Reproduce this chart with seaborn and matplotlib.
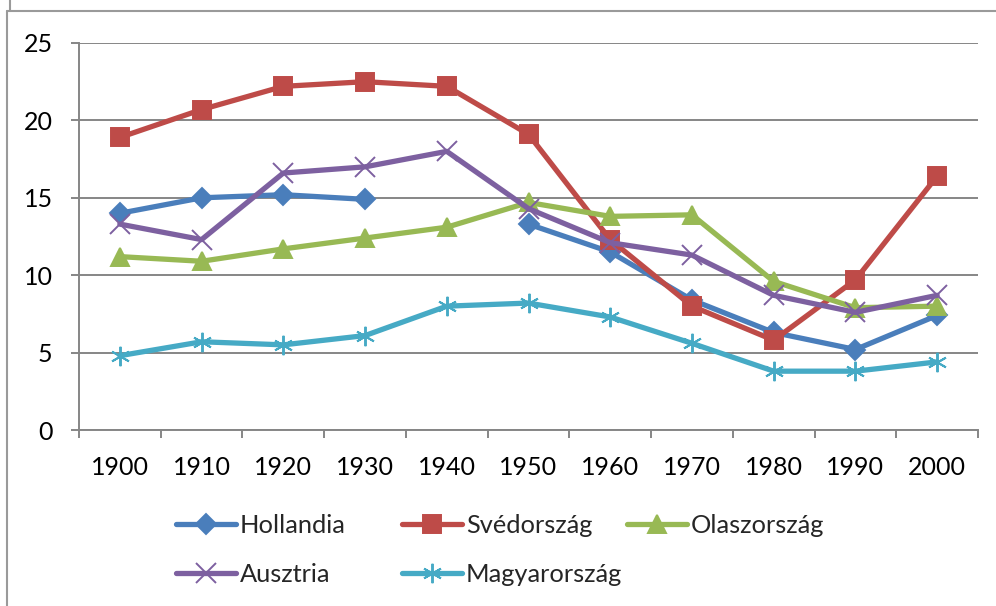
import numpy as np
import pandas as pd
import matplotlib
matplotlib.use("Agg")
import matplotlib.pyplot as plt
import seaborn as sns
from matplotlib.lines import Line2D

# data
years = [1900, 1910, 1920, 1930, 1940, 1950, 1960, 1970, 1980, 1990, 2000]
hollandia = [14.0, 15.0, 15.2, 14.9, np.nan, 13.3, 11.5, 8.4, 6.3, 5.2, 7.4]
svedorszag = [18.9, 20.7, 22.2, 22.5, 22.2, 19.1, 12.3, 8.0, 5.8, 9.7, 16.4]
olaszorszag = [11.2, 10.9, 11.7, 12.4, 13.1, 14.7, 13.8, 13.9, 9.6, 7.9, 8.0]
ausztria = [13.3, 12.3, 16.6, 17.0, 18.0, 14.3, 12.1, 11.3, 8.7, 7.6, 8.7]
magyarorszag = [4.8, 5.7, 5.5, 6.1, 8.0, 8.2, 7.3, 5.6, 3.8, 3.8, 4.4]

series = ["Hollandia", "Svédország", "Olaszország", "Ausztria", "Magyarország"]
colors = ["#4A7EBB", "#BE4B48", "#98B954", "#7D60A0", "#46AAC5"]
markers = ["D", "s", "^", "x", (6, 2, 0)]
msizes = [10.5, 13.5, 12.5, 14, 14]

sns.set_theme(style="white")
plt.rcParams['font.family'] = ['Lato', 'DejaVu Sans']

fig = plt.figure(figsize=(9.96, 6.06), dpi=100)
ax = fig.add_axes([79 / 996, 1 - 430 / 606, (978 - 79) / 996, (430 - 43) / 606])

values = [hollandia, svedorszag, olaszorszag, ausztria, magyarorszag]
for name, vals, c, m, ms in zip(series, values, colors, markers, msizes):
    df = pd.DataFrame({"year": years, "v": vals})
    # split on gaps so missing points break the line
    seg = df["v"].isna().cumsum()
    for _, part in df[df["v"].notna()].groupby(seg[df["v"].notna()]):
        sns.lineplot(data=part, x="year", y="v", ax=ax, color=c, lw=3.8,
                     marker=m, markersize=ms, markeredgecolor=c,
                     markeredgewidth=1.4, estimator=None, legend=False)

ax.set_xlim(1895, 2005)
ax.set_ylim(0, 25)
ax.set_yticks([0, 5, 10, 15, 20, 25])
ax.set_xticks(years)
ax.set_xticks([y - 5 for y in years] + [2005], minor=True)
ax.set_xlabel("")
ax.set_ylabel("")
ax.grid(axis="y", color="#868686", lw=1.4)
ax.set_axisbelow(True)
for s in ["top", "right"]:
    ax.spines[s].set_visible(False)
for s in ["left", "bottom"]:
    ax.spines[s].set_color("#868686")
    ax.spines[s].set_linewidth(1.4)
ax.tick_params(axis="x", which="major", length=0, pad=19, labelsize=18,
               labelcolor="black")
ax.tick_params(axis="x", which="minor", bottom=True, length=6, width=1.4,
               color="#868686")
ax.tick_params(axis="y", left=True, length=6, width=1.4, color="#868686",
               pad=13, labelsize=18, labelcolor="black")

handles = [Line2D([], [], color=c, lw=3.8, marker=m, markersize=ms,
                  markeredgecolor=c, markeredgewidth=1.4)
           for c, m, ms in zip(colors, markers, msizes)]

# Excel-style legend: equal-width columns, filled row by row
columns = [[0, 3], [1, 4], [2]]
col_x = [176, 402, 627]
for idx, x0 in zip(columns, col_x):
    leg = fig.legend([handles[i] for i in idx], [series[i] for i in idx],
                     frameon=False, loc="upper left",
                     bbox_to_anchor=((x0 - 10) / 996, 1 - 504 / 606),
                     fontsize=18.3, handlelength=2.35, handletextpad=0.15,
                     labelspacing=1.0, borderpad=0.4, borderaxespad=0)

# outer frame lines
fig.add_artist(Line2D([7 / 996, 1], [1 - 11 / 606, 1 - 11 / 606],
                      color="#9a9a9a", lw=1.5))
fig.add_artist(Line2D([7 / 996, 7 / 996], [0, 1 - 11 / 606],
                      color="#9a9a9a", lw=1.5))
fig.add_artist(Line2D([10 / 996, 10 / 996], [1 - 11 / 606, 1],
                      color="#9a9a9a", lw=1.5))

fig.savefig("out.png", dpi=100)
